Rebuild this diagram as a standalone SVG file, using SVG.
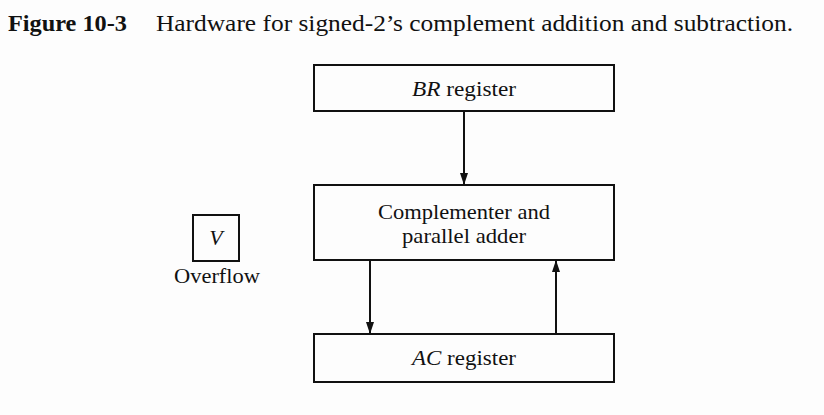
<svg xmlns="http://www.w3.org/2000/svg" width="824" height="415" viewBox="0 0 824 415">
<style>
.box{fill:none;stroke:#111;stroke-width:2}
.t{font-family:"Liberation Serif","Times New Roman",serif;font-size:22px;fill:#111}
.cap{font-family:"Liberation Serif","Times New Roman",serif;font-size:23px;fill:#111}
.c{stroke:#111;stroke-width:2;fill:none}
</style>
<defs>
<marker id="ah" viewBox="0 0 12 10" refX="12" refY="5" markerWidth="12" markerHeight="10" markerUnits="userSpaceOnUse" orient="auto">
<path d="M0,1 L12,5 L0,9 z" fill="#111"/>
</marker>
</defs>
<rect width="824" height="415" fill="#fdfdfd"/>
<text class="cap" x="8" y="31" font-weight="bold" textLength="119" lengthAdjust="spacingAndGlyphs">Figure 10-3</text>
<text class="cap" x="156" y="31" textLength="637" lengthAdjust="spacingAndGlyphs">Hardware for signed-2’s complement addition and subtraction.</text>
<g id="br">
<rect class="box" x="314" y="65" width="300" height="46"/>
<text class="t" x="464" y="96" text-anchor="middle" textLength="104" lengthAdjust="spacingAndGlyphs"><tspan font-style="italic">BR</tspan> register</text>
</g>
<g id="adder">
<rect class="box" x="314" y="185" width="300" height="75"/>
<text class="t" x="464" y="219" text-anchor="middle" textLength="172" lengthAdjust="spacingAndGlyphs">Complementer and</text>
<text class="t" x="464" y="243" text-anchor="middle" textLength="124" lengthAdjust="spacingAndGlyphs">parallel adder</text>
</g>
<g id="ac">
<rect class="box" x="314" y="334" width="300" height="48"/>
<text class="t" x="464" y="365" text-anchor="middle" textLength="104" lengthAdjust="spacingAndGlyphs"><tspan font-style="italic">AC</tspan> register</text>
</g>
<g id="v">
<rect class="box" x="193" y="215" width="46" height="46"/>
<text class="t" x="216" y="245" text-anchor="middle" font-style="italic">V</text>
<text class="t" x="217" y="283" text-anchor="middle" textLength="86" lengthAdjust="spacingAndGlyphs">Overflow</text>
</g>
<g id="connectors">
<line class="c" x1="464" y1="111" x2="464" y2="185" marker-end="url(#ah)"/>
<line class="c" x1="370" y1="260" x2="370" y2="334" marker-end="url(#ah)"/>
<line class="c" x1="556" y1="334" x2="556" y2="260" marker-end="url(#ah)"/>
</g>
</svg>
